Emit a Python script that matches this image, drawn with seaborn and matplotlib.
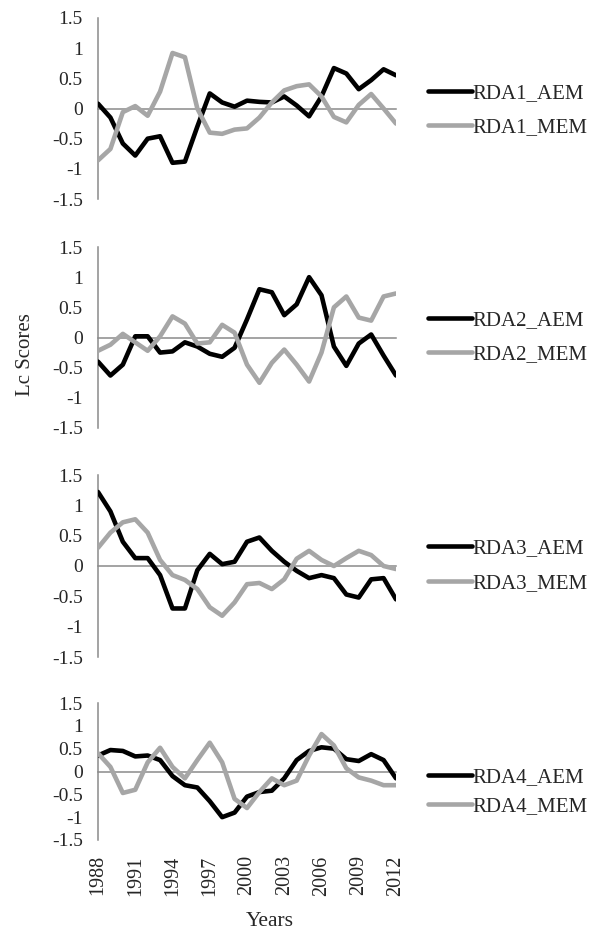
import numpy as np
import pandas as pd
import matplotlib
matplotlib.use("Agg")
import matplotlib.pyplot as plt
import seaborn as sns

years = list(range(1988, 2013))

rda1_aem = [0.08, -0.15, -0.58, -0.78, -0.5, -0.46, -0.9, -0.88, -0.3, 0.25, 0.1, 0.03, 0.13,
            0.11, 0.1, 0.2, 0.05, -0.13, 0.2, 0.67, 0.58, 0.32, 0.47, 0.65, 0.55]
rda1_mem = [-0.86, -0.67, -0.06, 0.04, -0.12, 0.28, 0.92, 0.85, 0.0, -0.4, -0.42, -0.35, -0.33,
            -0.15, 0.1, 0.3, 0.37, 0.4, 0.2, -0.14, -0.23, 0.06, 0.24, 0.0, -0.25]
rda2_aem = [-0.4, -0.63, -0.45, 0.02, 0.02, -0.25, -0.23, -0.08, -0.15, -0.27, -0.32, -0.17, 0.3,
            0.8, 0.75, 0.37, 0.55, 1.0, 0.7, -0.15, -0.47, -0.1, 0.05, -0.3, -0.63]
rda2_mem = [-0.22, -0.12, 0.06, -0.08, -0.22, 0.02, 0.35, 0.23, -0.1, -0.08, 0.21, 0.08, -0.45,
            -0.75, -0.42, -0.2, -0.45, -0.73, -0.25, 0.5, 0.68, 0.33, 0.28, 0.68, 0.73]
rda3_aem = [1.22, 0.9, 0.4, 0.13, 0.13, -0.15, -0.7, -0.7, -0.07, 0.2, 0.03, 0.07, 0.4,
            0.47, 0.25, 0.07, -0.08, -0.2, -0.15, -0.2, -0.47, -0.52, -0.22, -0.2, -0.55]
rda3_mem = [0.3, 0.55, 0.72, 0.77, 0.55, 0.1, -0.15, -0.23, -0.38, -0.68, -0.82, -0.6, -0.3,
            -0.28, -0.38, -0.22, 0.12, 0.25, 0.1, 0.0, 0.13, 0.25, 0.18, 0.0, -0.05]
rda4_aem = [0.35, 0.47, 0.45, 0.33, 0.35, 0.25, -0.1, -0.3, -0.35, -0.65, -1.0, -0.9, -0.55,
            -0.45, -0.42, -0.15, 0.25, 0.45, 0.53, 0.5, 0.27, 0.23, 0.38, 0.25, -0.15]
rda4_mem = [0.4, 0.1, -0.47, -0.4, 0.2, 0.52, 0.1, -0.15, 0.25, 0.63, 0.2, -0.6, -0.8,
            -0.45, -0.15, -0.3, -0.2, 0.35, 0.82, 0.57, 0.07, -0.13, -0.2, -0.3, -0.3]

panel_names = ["RDA1", "RDA2", "RDA3", "RDA4"]
aem_series = [rda1_aem, rda2_aem, rda3_aem, rda4_aem]
mem_series = [rda1_mem, rda2_mem, rda3_mem, rda4_mem]

ytick_vals = [-1.5, -1, -0.5, 0, 0.5, 1, 1.5]
ytick_labels = ["-1.5", "-1", "-0.5", "0", "0.5", "1", "1.5"]
xtick_years = [1988, 1991, 1994, 1997, 2000, 2003, 2006, 2009, 2012]
xtick_labels = [str(y) for y in xtick_years]

sns.set_style("white")
plt.rcParams["font.family"] = ["Liberation Serif", "DejaVu Serif"]
plt.rcParams["axes.unicode_minus"] = False

W, H = 603, 932
fig = plt.figure(figsize=(W / 100, H / 100), dpi=100)

gray_axis = "#8a8a8a"
gray_line = "#a6a6a6"

# panel boxes in pixels: top, bottom
boxes = [(18, 199), (247, 428), (475, 657), (703, 840)]
x0, x1 = 98, 396
legend_y = [0.49, 0.5, 0.5, 0.35]
legend_sp = [0.72, 0.72, 0.72, 0.45]

for i, name in enumerate(panel_names):
    top, bot = boxes[i]
    ax = fig.add_axes([x0 / W, 1 - bot / H, (x1 - x0) / W, (bot - top) / H])
    df = pd.DataFrame({"Year": years, "AEM": aem_series[i], "MEM": mem_series[i]})
    sns.lineplot(data=df, x="Year", y="AEM", ax=ax, color="black", lw=3.3,
                 label=f"{name}_AEM", zorder=3)
    sns.lineplot(data=df, x="Year", y="MEM", ax=ax, color=gray_line, lw=3.3,
                 label=f"{name}_MEM", zorder=3)
    ax.set_xlim(1988, 2012)
    ax.set_ylim(-1.5, 1.5)
    ax.set_xlabel("")
    ax.set_ylabel("")
    ax.set_yticks(ytick_vals, ytick_labels)
    ax.set_xticks(years)
    for s in ["top", "right"]:
        ax.spines[s].set_visible(False)
    ax.spines["bottom"].set_position(("data", 0))
    for s in ["bottom", "left"]:
        ax.spines[s].set_color(gray_axis)
        ax.spines[s].set_linewidth(1.1)
    ax.tick_params(axis="x", direction="out", length=4.5, width=1.1, color=gray_axis,
                   labelbottom=False)
    ax.tick_params(axis="y", direction="out", length=5, width=1.1, color=gray_axis,
                   labelsize=14, pad=6)
    if i == 3:
        sec = ax.secondary_xaxis("bottom")
        sec.set_xticks(xtick_years, xtick_labels)
        sec.tick_params(length=0, pad=11, labelsize=14.5, labelrotation=90)
        sec.spines["bottom"].set_visible(False)
    ax.legend(loc="center left", bbox_to_anchor=(1.107, legend_y[i]), frameon=False,
              fontsize=15, handlelength=2.1, handletextpad=0.05, borderpad=0,
              borderaxespad=0, labelspacing=legend_sp[i])

fig.text(25 / W, 1 - 355 / H, "Lc Scores", rotation=90, ha="center", va="center", fontsize=15)
fig.text(270 / W, 6 / H, "Years", ha="center", va="baseline", fontsize=15.5)

fig.savefig("out.png", dpi=100)
